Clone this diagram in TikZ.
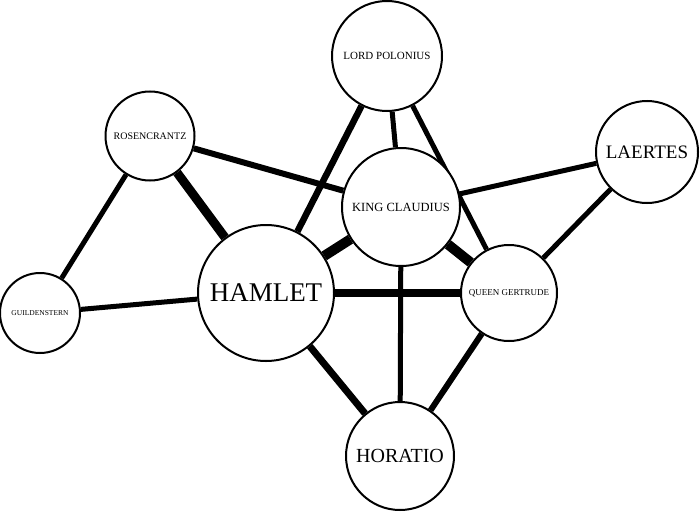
\documentclass[tikz,border=0pt]{standalone}
\usepackage{fontspec}
\setmainfont{Liberation Serif}
\usetikzlibrary{backgrounds}

\begin{document}
\begin{tikzpicture}[x=1pt, y=-1pt,
                person/.style={draw, circle, line width=2pt, fill=white, inner sep=0pt},
                link/.style={line width=#1}]
                \useasboundingbox (0,0) rectangle (700,511);

                \node[person, minimum size=110pt, font=\fontsize{11}{11}\selectfont] (P) at (387,56) {LORD POLONIUS};
                \node[person, minimum size=89pt, font=\fontsize{10}{10}\selectfont] (R) at (150,136) {ROSENCRANTZ};
                \node[person, minimum size=102pt, font=\fontsize{19}{19}\selectfont] (L) at (647,152) {LAERTES};
                \node[person, minimum size=118pt, font=\fontsize{12.5}{12.5}\selectfont] (K) at (401,207) {KING CLAUDIUS};
                \node[person, minimum size=80pt, font=\fontsize{7.5}{7.5}\selectfont] (G) at (40,313) {GUILDENSTERN};
                \node[person, minimum size=136pt, font=\fontsize{27}{27}\selectfont] (H) at (266,293) {HAMLET};
                \node[person, minimum size=96pt, font=\fontsize{9}{9}\selectfont] (Q) at (509,293) {QUEEN GERTRUDE};
                \node[person, minimum size=108pt, font=\fontsize{20}{20}\selectfont] (O) at (400,456) {HORATIO};

                % ties between the characters
                \begin{scope}[on background layer]
                \draw[link=5pt] (R) -- (G);
                \draw[link=9pt] (R) -- (H);
                \draw[link=6pt] (R) -- (K);
                \draw[link=5pt] (G) -- (H);
                \draw[link=6.5pt] (H) -- (P);
                \draw[link=10pt] (H) -- (K);
                \draw[link=8pt] (H) -- (Q);
                \draw[link=7pt] (H) -- (O);
                \draw[link=5pt] (P) -- (K);
                \draw[link=5pt] (P) -- (Q);
                \draw[link=5pt] (K) -- (L);
                \draw[link=10pt] (K) -- (Q);
                \draw[link=5pt] (K) -- (O);
                \draw[link=5pt] (Q) -- (L);
                \draw[link=6pt] (Q) -- (O);
                \end{scope}
            \end{tikzpicture}
\end{document}
